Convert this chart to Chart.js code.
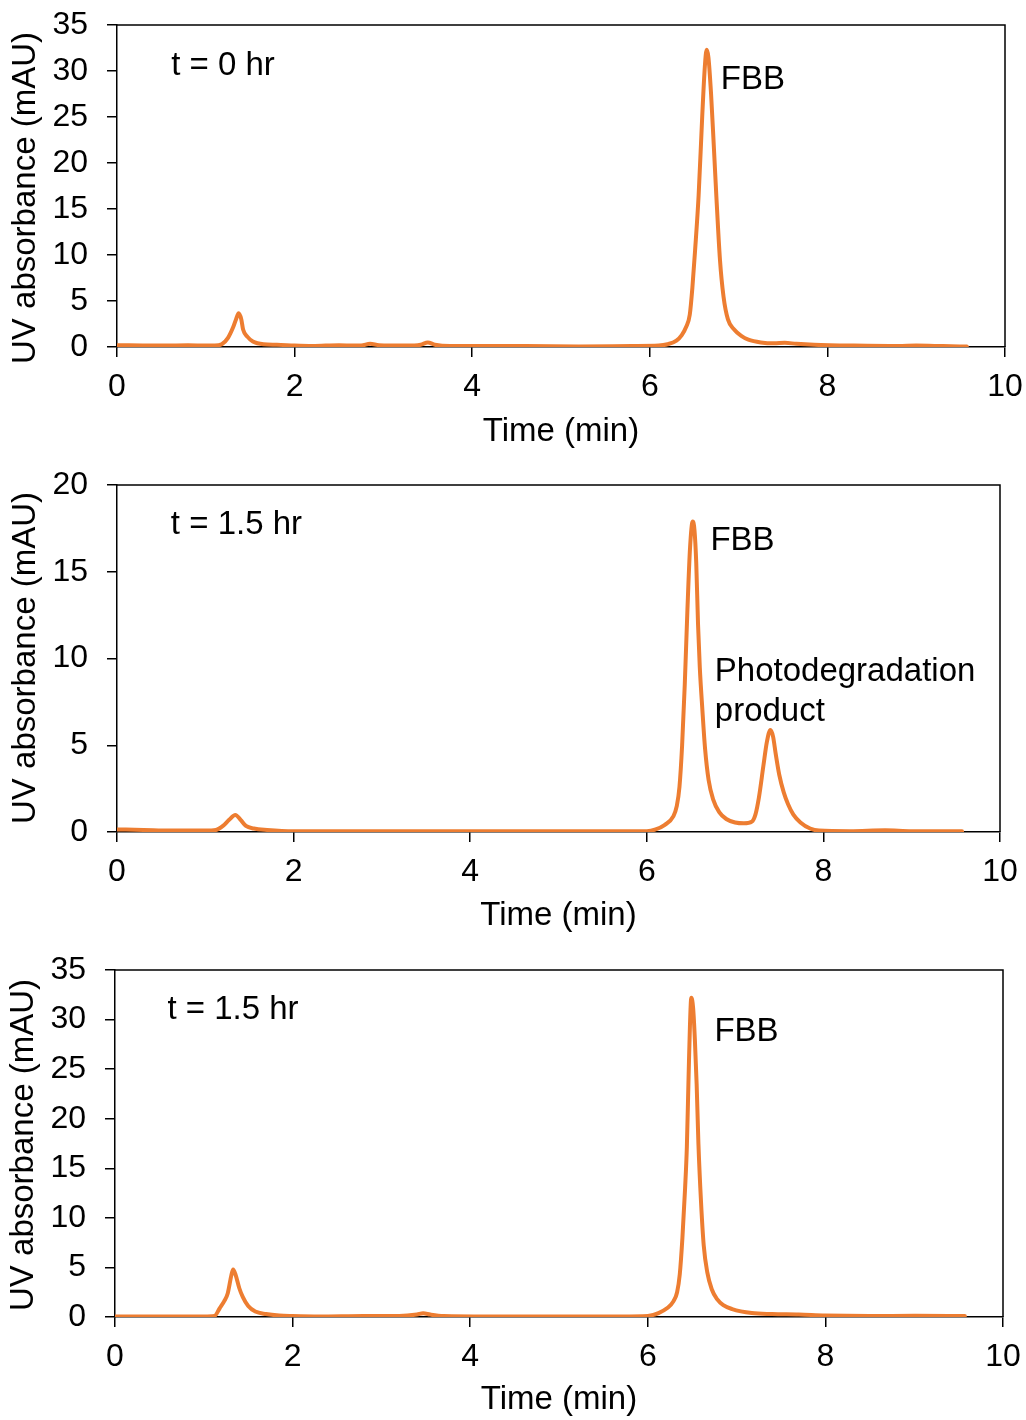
<!DOCTYPE html>
<html>
<head>
<meta charset="utf-8">
<script src="https://cdn.jsdelivr.net/npm/chart.js@4.4.1/dist/chart.umd.min.js"></script>
<style>
  html, body { margin: 0; padding: 0; background: #ffffff; }
  body { width: 1026px; height: 1420px; position: relative; overflow: hidden; }
  .panel { position: absolute; left: 0; width: 1026px; }
</style>
</head>
<body>
<div class="panel" id="p1"><canvas id="c1"></canvas></div>
<div class="panel" id="p2"><canvas id="c2"></canvas></div>
<div class="panel" id="p3"><canvas id="c3"></canvas></div>
<script>
// ---------------- DATA ----------------
const xTickValues = [0, 2, 4, 6, 8, 10];
const yTicksA = [0, 5, 10, 15, 20, 25, 30, 35];
const yTicksB = [0, 5, 10, 15, 20];

// Panel 1: t = 0 hr
const time1 = [0.00,0.40,0.80,1.10,1.18,1.25,1.31,1.34,1.37,1.40,1.42,1.47,1.53,1.65,1.80,2.00,2.20,2.50,2.75,2.85,2.95,3.25,3.42,3.50,3.58,3.75,4.00,4.60,5.20,5.80,6.10,6.20,6.30,6.36,6.41,6.45,6.48,6.51,6.55,6.59,6.62,6.64,6.66,6.69,6.72,6.75,6.79,6.83,6.88,6.95,7.03,7.11,7.25,7.40,7.52,7.65,7.85,8.30,8.80,9.00,9.30,9.57];
const abs1  = [0.20,0.15,0.20,0.15,0.30,1.00,2.20,3.00,3.66,3.00,1.90,1.10,0.60,0.30,0.25,0.15,0.10,0.20,0.15,0.35,0.20,0.15,0.25,0.50,0.25,0.10,0.10,0.10,0.05,0.10,0.15,0.30,0.70,1.30,2.20,3.50,6.50,10.5,16.5,25.0,30.5,32.3,31.5,27.5,22.0,16.3,9.50,5.50,3.00,1.90,1.20,0.80,0.50,0.40,0.45,0.35,0.25,0.15,0.10,0.15,0.10,0.05];

// Panel 2: t = 1.5 hr (with photodegradation product)
const time2 = [0.00,0.30,0.60,1.00,1.12,1.20,1.27,1.34,1.40,1.46,1.55,1.70,2.00,3.00,4.00,5.00,5.80,6.00,6.10,6.20,6.30,6.34,6.37,6.40,6.43,6.46,6.49,6.52,6.54,6.56,6.58,6.60,6.63,6.66,6.70,6.75,6.82,6.90,7.00,7.10,7.19,7.23,7.27,7.32,7.36,7.40,7.43,7.46,7.50,7.55,7.60,7.66,7.74,7.85,7.95,8.30,8.70,9.00,9.57];
const abs2  = [0.15,0.12,0.08,0.08,0.12,0.35,0.70,0.98,0.70,0.35,0.20,0.12,0.05,0.05,0.05,0.05,0.05,0.05,0.15,0.40,0.90,1.50,2.60,5.00,8.50,12.8,16.4,17.9,17.4,15.5,12.0,9.50,7.00,4.80,3.00,1.90,1.15,0.75,0.55,0.50,0.60,1.00,2.00,3.80,5.20,5.88,5.50,4.50,3.30,2.30,1.60,1.00,0.55,0.20,0.08,0.05,0.10,0.05,0.05];

// Panel 3: t = 1.5 hr
const time3 = [0.00,0.50,1.00,1.12,1.18,1.23,1.27,1.31,1.33,1.36,1.40,1.44,1.50,1.58,1.70,1.85,2.00,2.30,2.80,3.20,3.40,3.47,3.55,3.70,4.20,5.00,5.70,6.00,6.12,6.22,6.29,6.33,6.36,6.39,6.42,6.44,6.46,6.475,6.49,6.51,6.53,6.55,6.57,6.60,6.63,6.67,6.72,6.78,6.85,6.95,7.17,7.40,7.70,8.00,8.50,9.00,9.57];
const abs3  = [0.05,0.05,0.05,0.10,0.90,1.60,2.40,4.20,4.80,4.20,2.90,2.00,1.10,0.55,0.30,0.15,0.10,0.05,0.10,0.10,0.25,0.38,0.25,0.10,0.05,0.05,0.05,0.10,0.40,0.90,1.60,2.50,4.30,8.00,13.0,17.2,24.5,29.5,32.2,31.2,28.0,23.5,17.5,11.5,7.20,4.50,2.80,1.80,1.20,0.80,0.40,0.30,0.25,0.15,0.10,0.12,0.10];

// Annotation texts and anchors (time, absorbance)
const labels1 = ["t = 0 hr", "FBB"];
const labels2 = ["t = 1.5 hr", "FBB", "Photodegradation", "product"];
const labels3 = ["t = 1.5 hr", "FBB"];
const anchors1 = [[0.61, 30.6], [6.80, 29.0]];
const anchors2 = [[0.61, 17.7], [6.72, 16.8], [6.77, 9.24], [6.77, 6.93]];
const anchors3 = [[0.59, 31.0], [6.75, 28.8]];

const xTitle = "Time (min)";
const yTitle = "UV absorbance (mAU)";

// ---------------- STYLE / LAYOUT ----------------
const FONT = "'Liberation Sans', Arial, Helvetica, sans-serif";
const LINE_COLOR = "#ED7D31";
const TICK_SIZE = 32, TITLE_SIZE = 33, ANNO_SIZE = 33;
const TITLE_LH = 1.2;
const TITLE_HALF = TITLE_SIZE * TITLE_LH / 2;

const panels = [
  { id: 'c1', div: 'p1', top: 0,   height: 460, plotL: 117, plotR: 1005, plotT: 25,  plotB: 347,  yTitleX: 26, yTitleY: 198, xTitleY: 432,
    time: time1, abs: abs1, yMax: 35, yTicks: yTicksA, texts: labels1, anchors: anchors1 },
  { id: 'c2', div: 'p2', top: 460, height: 480, plotL: 117, plotR: 1000, plotT: 485, plotB: 832,  yTitleX: 26, yTitleY: 658, xTitleY: 916,
    time: time2, abs: abs2, yMax: 20, yTicks: yTicksB, texts: labels2, anchors: anchors2 },
  { id: 'c3', div: 'p3', top: 945, height: 475, plotL: 115, plotR: 1003, plotT: 970, plotB: 1317, yTitleX: 24, yTitleY: 1145, xTitleY: 1400,
    time: time3, abs: abs3, yMax: 35, yTicks: yTicksA, texts: labels3, anchors: anchors3 },
];

const framePlugin = {
  id: 'frame',
  afterDraw(chart) {
    const { ctx, chartArea: a } = chart;
    ctx.save();
    ctx.strokeStyle = '#000';
    ctx.lineWidth = 1.5;
    ctx.beginPath();
    ctx.moveTo(a.left, a.top);
    ctx.lineTo(a.right, a.top);
    ctx.lineTo(a.right, a.bottom);
    ctx.stroke();
    ctx.restore();
  }
};

const annoPlugin = {
  id: 'anno',
  afterDatasetsDraw(chart, args, opts) {
    const { ctx, scales } = chart;
    ctx.save();
    ctx.fillStyle = '#000';
    ctx.font = ANNO_SIZE + 'px ' + FONT;
    ctx.textAlign = 'left';
    ctx.textBaseline = 'middle';
    opts.texts.forEach((t, i) => {
      const [xv, yv] = opts.anchors[i];
      ctx.fillText(t, scales.x.getPixelForValue(xv), scales.y.getPixelForValue(yv));
    });
    // vertical axis title
    ctx.font = TITLE_SIZE + 'px ' + FONT;
    ctx.textAlign = 'center';
    ctx.translate(opts.yTitleX, opts.yTitleY);
    ctx.rotate(-Math.PI / 2);
    ctx.fillText(yTitle, 0, 0);
    ctx.restore();
  }
};

panels.forEach(p => {
  const div = document.getElementById(p.div);
  div.style.top = p.top + 'px';
  div.style.height = p.height + 'px';
  const canvas = document.getElementById(p.id);
  canvas.width = 1026; canvas.height = p.height;
  canvas.style.width = '1026px'; canvas.style.height = p.height + 'px';

  const padLeft = 4;
  const canvasBottom = p.top + p.height;
  const padBottom = canvasBottom - (p.xTitleY + TITLE_HALF);
  const yWidth = p.plotL - padLeft;
  const xHeight = canvasBottom - padBottom - p.plotB;
  const pad = { top: p.plotT - p.top, left: padLeft, right: 1026 - p.plotR, bottom: padBottom };

  const points = p.time.map((t, i) => ({ x: t, y: p.abs[i] }));

  const chart = new Chart(canvas, {
    type: 'line',
    data: { datasets: [{ data: points, borderColor: LINE_COLOR, borderWidth: 4, pointRadius: 0,
      fill: false, cubicInterpolationMode: 'monotone', borderJoinStyle: 'round', borderCapStyle: 'round' }] },
    options: {
      responsive: false, animation: false, devicePixelRatio: 1,
      layout: { padding: pad },
      plugins: { legend: { display: false }, tooltip: { enabled: false },
        anno: { texts: p.texts, anchors: p.anchors, yTitleX: p.yTitleX, yTitleY: p.yTitleY - p.top } },
      scales: {
        x: {
          type: 'linear', min: 0, max: 10,
          afterBuildTicks: s => { s.ticks = xTickValues.map(v => ({ value: v })); },
          afterFit: s => { s.height = xHeight; },
          grid: { display: true, drawOnChartArea: false, drawTicks: true, tickLength: 10, color: '#000', lineWidth: 1.5 },
          border: { display: true, color: '#000', width: 1.5 },
          ticks: { color: '#000', padding: 0, maxRotation: 0, font: { family: FONT, size: TICK_SIZE, lineHeight: 1.875 } },
          title: { display: true, text: xTitle, color: '#000', padding: 0, font: { family: FONT, size: TITLE_SIZE, lineHeight: TITLE_LH } }
        },
        y: {
          type: 'linear', min: 0, max: p.yMax,
          afterBuildTicks: s => { s.ticks = p.yTicks.map(v => ({ value: v })); },
          afterFit: s => { s.width = yWidth; },
          grid: { display: true, drawOnChartArea: false, drawTicks: true, tickLength: 10, color: '#000', lineWidth: 1.5 },
          border: { display: true, color: '#000', width: 1.5 },
          ticks: { color: '#000', padding: 19, font: { family: FONT, size: TICK_SIZE, lineHeight: 0.3 } },
          title: { display: false }
        }
      }
    },
    plugins: [framePlugin, annoPlugin]
  });

  // correct the layout so that the plot area lands where the reference has it
  for (let k = 0; k < 3; k++) {
    const a = chart.chartArea;
    const dTop = a.top - (p.plotT - p.top);
    const dRight = a.right - p.plotR;
    const dLeft = a.left - p.plotL;
    if (Math.abs(dTop) < 0.5 && Math.abs(dRight) < 0.5 && Math.abs(dLeft) < 0.5) break;
    pad.top = Math.max(0, pad.top - dTop);
    pad.right = Math.max(0, pad.right + dRight);
    pad.left = Math.max(0, pad.left - dLeft);
    chart.options.layout.padding = { ...pad };
    chart.update('none');
  }
});
</script>
</body>
</html>
